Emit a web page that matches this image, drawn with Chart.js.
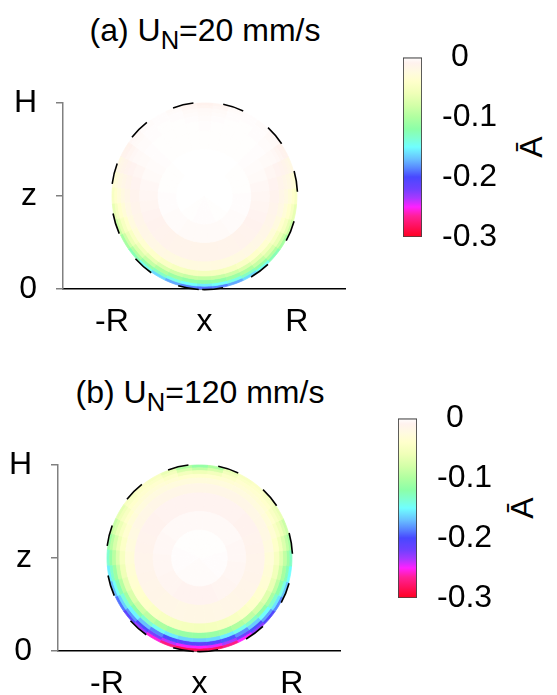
<!DOCTYPE html>
<html>
<head>
<meta charset="utf-8">
<script src="https://cdn.jsdelivr.net/npm/chart.js@4.4.1/dist/chart.umd.min.js"></script>
<style>
  html, body { margin: 0; padding: 0; background: #fff; }
  body { width: 557px; height: 695px; position: relative; overflow: hidden;
         font-family: "Liberation Sans", Arial, sans-serif; color: #000; }
  canvas { position: absolute; }
  .title { position: absolute; font-size: 32px; white-space: nowrap; transform: translate(-50%, -50%); }
  .title sub { font-size: 0.8em; vertical-align: -0.32em; line-height: 0; }
  .cbtitle { position: absolute; font-size: 32px; white-space: nowrap; transform: translate(-50%, -50%) rotate(-90deg); }
</style>
</head>
<body>
<div class="title" style="left:205px; top:30px">(a) U<sub>N</sub>=20 mm/s</div>
<div class="title" style="left:200px; top:392px">(b) U<sub>N</sub>=120 mm/s</div>
<div class="cbtitle" style="left:531px; top:147px">Ā</div>
<div class="cbtitle" style="left:522px; top:508px">Ā</div>

<canvas id="discA" width="372" height="345" style="left:0px; top:0px"></canvas>
<canvas id="barA" width="177" height="277" style="left:380px; top:0px"></canvas>
<canvas id="discB" width="372" height="345" style="left:-5px; top:362px"></canvas>
<canvas id="barB" width="177" height="277" style="left:375px; top:361px"></canvas>

<script>
// ---- axis ticks ----
const xTickValues = [-1, 0, 1];
const xTickLabels = ['-R', 'x', 'R'];
const zTickValues = [0, 1, 2];
const zTickLabels = ['0', 'z', 'H'];
const cbTickValues = [0, -0.1, -0.2, -0.3];
const cbTickLabels = [' 0', '-0.1', '-0.2', '-0.3'];

// ---- colour scale for Ā ----
const cmapValues = [0, -0.01, -0.025, -0.04, -0.06, -0.08, -0.1, -0.12, -0.135, -0.15, -0.17, -0.185, -0.2, -0.22, -0.235, -0.25, -0.265, -0.3];
const cmapColors = ['#ffffff', '#fff2ee', '#fffae0', '#ffffcc', '#f0ffb8', '#d4ffa8', '#b0ffa0', '#8cffa8', '#80ffd0', '#70ffff', '#68c0ff', '#5888ff', '#4848ff', '#7040ff', '#a838ff', '#ff20ff', '#ff2098', '#ff0020'];

// ---- polar grid of the sphere cross-section (radius in units of R, angle from the bottom, towards +x) ----
const ringEdges = [1.0, 0.97, 0.94, 0.90, 0.86, 0.80, 0.70, 0.50, 0.30, 0.0];
const sectorAngles = [0, 10, 20, 30, 40, 50, 60, 70, 80, 90, 100, 110, 120, 130, 140, 150, 160, 170,
                      180, 190, 200, 210, 220, 230, 240, 250, 260, 270, 280, 290, 300, 310, 320, 330, 340, 350];

// ---- Ā, U_N = 20 mm/s (one row per ring, outermost first) ----
const ringA0 = [-.190,-.186,-.176,-.162,-.145,-.125,-.105,-.085,-.066,-.050,-.035,-.022,-.012,-.006,-.003,-.002,-.004,-.008,-.010,-.008,-.004,-.002,-.003,-.006,-.012,-.022,-.035,-.050,-.066,-.085,-.105,-.125,-.145,-.162,-.176,-.186];
const ringA1 = [-.155,-.150,-.142,-.130,-.115,-.098,-.082,-.066,-.052,-.040,-.028,-.018,-.010,-.005,-.003,-.002,-.003,-.006,-.008,-.006,-.003,-.002,-.003,-.005,-.010,-.018,-.028,-.040,-.052,-.066,-.082,-.098,-.115,-.130,-.142,-.150];
const ringA2 = [-.120,-.117,-.110,-.100,-.088,-.075,-.063,-.051,-.040,-.031,-.022,-.014,-.008,-.004,-.002,-.002,-.002,-.004,-.005,-.004,-.002,-.002,-.002,-.004,-.008,-.014,-.022,-.031,-.040,-.051,-.063,-.075,-.088,-.100,-.110,-.117];
const ringA3 = [-.090,-.088,-.083,-.075,-.066,-.057,-.048,-.039,-.031,-.024,-.017,-.011,-.006,-.003,-.002,-.001,-.002,-.003,-.004,-.003,-.002,-.001,-.002,-.003,-.006,-.011,-.017,-.024,-.031,-.039,-.048,-.057,-.066,-.075,-.083,-.088];
const ringA4 = [-.055,-.054,-.051,-.047,-.042,-.036,-.031,-.026,-.021,-.017,-.013,-.009,-.005,-.003,-.002,-.001,-.001,-.002,-.003,-.002,-.001,-.001,-.002,-.003,-.005,-.009,-.013,-.017,-.021,-.026,-.031,-.036,-.042,-.047,-.051,-.054];
const ringA5 = [-.026,-.026,-.025,-.023,-.021,-.019,-.017,-.015,-.013,-.011,-.009,-.007,-.004,-.002,-.001,-.001,-.001,-.001,-.002,-.001,-.001,-.001,-.001,-.002,-.004,-.007,-.009,-.011,-.013,-.015,-.017,-.019,-.021,-.023,-.025,-.026];
const ringA6 = [-.014,-.014,-.013,-.013,-.012,-.011,-.010,-.009,-.008,-.007,-.006,-.004,-.003,-.002,-.001,-.001,-.001,-.001,-.001,-.001,-.001,-.001,-.001,-.002,-.003,-.004,-.006,-.007,-.008,-.009,-.010,-.011,-.012,-.013,-.013,-.014];
const ringA7 = [-.004,-.004,-.004,-.004,-.003,-.003,-.003,-.002,-.002,-.002,-.001,-.001,-.001,-.001,0,0,0,0,0,0,0,0,0,-.001,-.001,-.001,-.001,-.002,-.002,-.002,-.003,-.003,-.003,-.004,-.004,-.004];
const ringA8 = [-.002,-.002,-.002,-.001,-.001,-.001,0,0,0,0,0,0,0,0,0,0,0,0,0,0,0,0,0,0,0,0,0,0,0,0,0,-.001,-.001,-.001,-.002,-.002];

// ---- Ā, U_N = 120 mm/s ----
const ringB0 = [-.285,-.282,-.270,-.250,-.228,-.205,-.185,-.168,-.150,-.130,-.105,-.085,-.065,-.052,-.046,-.050,-.065,-.100,-.115,-.100,-.065,-.050,-.046,-.052,-.068,-.088,-.110,-.135,-.155,-.172,-.190,-.210,-.232,-.255,-.272,-.283];
const ringB1 = [-.250,-.246,-.235,-.218,-.198,-.178,-.158,-.142,-.126,-.110,-.090,-.073,-.057,-.047,-.042,-.045,-.055,-.078,-.090,-.078,-.055,-.045,-.042,-.047,-.060,-.076,-.094,-.114,-.132,-.148,-.164,-.182,-.202,-.222,-.238,-.248];
const ringB2 = [-.210,-.206,-.197,-.183,-.166,-.149,-.133,-.119,-.105,-.090,-.074,-.060,-.048,-.040,-.037,-.038,-.044,-.055,-.060,-.055,-.044,-.038,-.037,-.040,-.050,-.063,-.078,-.094,-.110,-.124,-.138,-.153,-.170,-.186,-.199,-.208];
const ringB3 = [-.165,-.162,-.155,-.144,-.131,-.117,-.104,-.092,-.081,-.070,-.058,-.048,-.039,-.034,-.032,-.032,-.035,-.039,-.040,-.039,-.035,-.032,-.032,-.034,-.040,-.050,-.061,-.073,-.085,-.096,-.108,-.120,-.134,-.146,-.156,-.163];
const ringB4 = [-.115,-.113,-.108,-.100,-.091,-.081,-.072,-.064,-.057,-.050,-.042,-.035,-.030,-.027,-.026,-.026,-.027,-.028,-.028,-.028,-.027,-.026,-.026,-.027,-.031,-.037,-.044,-.052,-.060,-.067,-.075,-.084,-.093,-.102,-.109,-.114];
const ringB5 = [-.055,-.054,-.052,-.049,-.045,-.041,-.037,-.034,-.032,-.030,-.026,-.022,-.020,-.019,-.018,-.018,-.018,-.018,-.018,-.018,-.018,-.018,-.018,-.019,-.020,-.023,-.027,-.031,-.034,-.036,-.039,-.042,-.046,-.049,-.052,-.054];
const ringB6 = [-.020,-.020,-.019,-.018,-.017,-.016,-.015,-.014,-.013,-.013,-.012,-.011,-.010,-.010,-.009,-.009,-.009,-.009,-.009,-.009,-.009,-.009,-.009,-.010,-.010,-.011,-.012,-.013,-.013,-.014,-.015,-.016,-.017,-.018,-.019,-.020];
const ringB7 = [-.009,-.009,-.009,-.008,-.008,-.008,-.007,-.007,-.007,-.006,-.006,-.006,-.005,-.005,-.005,-.005,-.005,-.005,-.005,-.005,-.005,-.005,-.005,-.005,-.006,-.006,-.006,-.007,-.007,-.007,-.008,-.008,-.008,-.009,-.009,-.009];
const ringB8 = [-.003,-.003,-.003,-.003,-.003,-.002,-.002,-.002,-.002,-.002,-.002,-.001,-.001,-.001,-.001,-.001,-.001,-.001,-.001,-.001,-.001,-.001,-.001,-.001,-.001,-.002,-.002,-.002,-.002,-.002,-.002,-.003,-.003,-.003,-.003,-.003];

const fieldA = [ringA0, ringA1, ringA2, ringA3, ringA4, ringA5, ringA6, ringA7, ringA8];
const fieldB = [ringB0, ringB1, ringB2, ringB3, ringB4, ringB5, ringB6, ringB7, ringB8];

Chart.defaults.font.family = "'Liberation Sans', Arial, sans-serif";
Chart.defaults.color = '#000';

function hexToRgb(h) {
  return [parseInt(h.slice(1, 3), 16), parseInt(h.slice(3, 5), 16), parseInt(h.slice(5, 7), 16)];
}
const cmapRgb = cmapColors.map(hexToRgb);

// colour of a value on the palette (linear blend between palette stops)
function colourOf(v) {
  if (v >= cmapValues[0]) return cmapColors[0];
  for (let i = 1; i < cmapValues.length; i++) {
    if (v >= cmapValues[i]) {
      const t = (cmapValues[i - 1] - v) / (cmapValues[i - 1] - cmapValues[i]);
      const a = cmapRgb[i - 1], b = cmapRgb[i];
      const c = a.map((ch, k) => Math.round(ch + (b[k] - ch) * t));
      return 'rgb(' + c.join(',') + ')';
    }
  }
  return cmapColors[cmapColors.length - 1];
}

// sphere centre (x, z) and radius, in axis units
const discCentre = [0, 1];
const discRadius = 1;

const discPlugin = {
  id: 'disc',
  beforeDatasetsDraw(chart, args, opts) {
    const { ctx, scales: { x, y } } = chart;
    const px = (r, deg) => {
      const a = deg * Math.PI / 180;
      return [x.getPixelForValue(discCentre[0] + discRadius * r * Math.sin(a)),
              y.getPixelForValue(discCentre[1] - discRadius * r * Math.cos(a))];
    };
    const half = (sectorAngles[1] - sectorAngles[0]) / 2;
    ctx.save();
    ctx.lineJoin = 'round';
    opts.field.forEach((row, j) => {
      const rOut = ringEdges[j], rIn = ringEdges[j + 1];
      row.forEach((val, k) => {
        const a0 = sectorAngles[k] - half, a1 = sectorAngles[k] + half;
        const col = colourOf(val);
        ctx.beginPath();
        for (let s = 0; s <= 4; s++) {
          const p = px(rOut, a0 + (a1 - a0) * s / 4);
          s === 0 ? ctx.moveTo(p[0], p[1]) : ctx.lineTo(p[0], p[1]);
        }
        for (let s = 4; s >= 0; s--) {
          const p = px(rIn, a0 + (a1 - a0) * s / 4);
          ctx.lineTo(p[0], p[1]);
        }
        ctx.closePath();
        ctx.fillStyle = col;
        ctx.strokeStyle = col;
        ctx.lineWidth = 0.8;
        ctx.fill();
        ctx.stroke();
      });
    });
    ctx.restore();
  },
  afterDatasetsDraw(chart, args, opts) {
    // dashed outline of the sphere
    const { ctx, scales: { x, y } } = chart;
    const cx = x.getPixelForValue(discCentre[0]);
    const cy = y.getPixelForValue(discCentre[1]);
    const rx = x.getPixelForValue(discCentre[0] + discRadius) - cx + 0.6;
    const ry = cy - y.getPixelForValue(discCentre[1] + discRadius) + 0.6;
    const start = opts.dashStart * Math.PI / 180;
    ctx.save();
    ctx.strokeStyle = '#000';
    ctx.lineWidth = 1.6;
    ctx.setLineDash([21, 30]);
    ctx.beginPath();
    ctx.ellipse(cx, cy, rx, ry, 0, start, start + 2 * Math.PI);
    ctx.stroke();
    ctx.restore();
  }
};

function makeDisc(id, field) {
  return new Chart(document.getElementById(id), {
    type: 'scatter',
    data: { datasets: [] },
    plugins: [discPlugin],
    options: {
      responsive: false,
      animation: false,
      events: [],
      layout: { padding: { top: 103, right: 27, left: 0, bottom: 0 } },
      plugins: {
        legend: { display: false },
        tooltip: { enabled: false },
        disc: { field: field, dashStart: 93.5 }
      },
      scales: {
        x: {
          type: 'linear', min: -1.53, max: 1.52,
          afterFit(s) { s.height = 56; },
          afterBuildTicks(s) { s.ticks = xTickValues.map(v => ({ value: v })); },
          ticks: { callback: (v, i) => xTickLabels[i], font: { size: 32 }, color: '#000', padding: 14, maxRotation: 0 },
          grid: { drawOnChartArea: false, drawTicks: false },
          border: { display: true, color: '#000', width: 1.5 }
        },
        y: {
          type: 'linear', min: 0, max: 2,
          afterFit(s) { s.width = 63; },
          afterBuildTicks(s) { s.ticks = zTickValues.map(v => ({ value: v })); },
          ticks: { callback: (v, i) => zTickLabels[i], font: { size: 32 }, color: '#000', padding: 19 },
          grid: { drawOnChartArea: false, drawTicks: true, tickLength: 7, color: '#808080', lineWidth: 1.5 },
          border: { display: true, color: '#808080', width: 1.5 }
        }
      }
    }
  });
}

function makeColourBar(id) {
  return new Chart(document.getElementById(id), {
    type: 'bar',
    data: {
      labels: ['Ā'],
      datasets: [{
        data: [[cbTickValues[cbTickValues.length - 1], cbTickValues[0]]],
        backgroundColor(c) {
          const { chart } = c;
          if (!chart.chartArea) return cmapColors[0];
          const ys = chart.scales.y;
          const top = ys.getPixelForValue(cmapValues[0]);
          const bot = ys.getPixelForValue(cmapValues[cmapValues.length - 1]);
          const g = chart.ctx.createLinearGradient(0, top, 0, bot);
          cmapValues.forEach((v, i) => g.addColorStop((ys.getPixelForValue(v) - top) / (bot - top), cmapColors[i]));
          return g;
        },
        borderColor: '#444',
        borderWidth: 1.2,
        borderSkipped: false,
        barPercentage: 1,
        categoryPercentage: 1
      }]
    },
    options: {
      responsive: false,
      animation: false,
      events: [],
      layout: { padding: { left: 23, top: 57, bottom: 40, right: 0 } },
      plugins: { legend: { display: false }, tooltip: { enabled: false } },
      scales: {
        x: { display: false },
        y: {
          position: 'right', min: -0.3, max: 0,
          afterFit(s) { s.width = 135; },
          afterBuildTicks(s) { s.ticks = cbTickValues.map(v => ({ value: v })); },
          ticks: { callback: (v, i) => cbTickLabels[i], font: { size: 32 }, color: '#000', padding: 20, crossAlign: 'near' },
          grid: {
            drawTicks: false,
            lineWidth: 1.2,
            color: c => (c.tick && (c.tick.value === 0 || c.tick.value === -0.3)) ? 'rgba(0,0,0,0)' : '#000'
          },
          border: { display: false, dash: [8, 2.5] }
        }
      }
    }
  });
}

makeDisc('discA', fieldA);
makeColourBar('barA');
makeDisc('discB', fieldB);
makeColourBar('barB');
</script>
</body>
</html>
